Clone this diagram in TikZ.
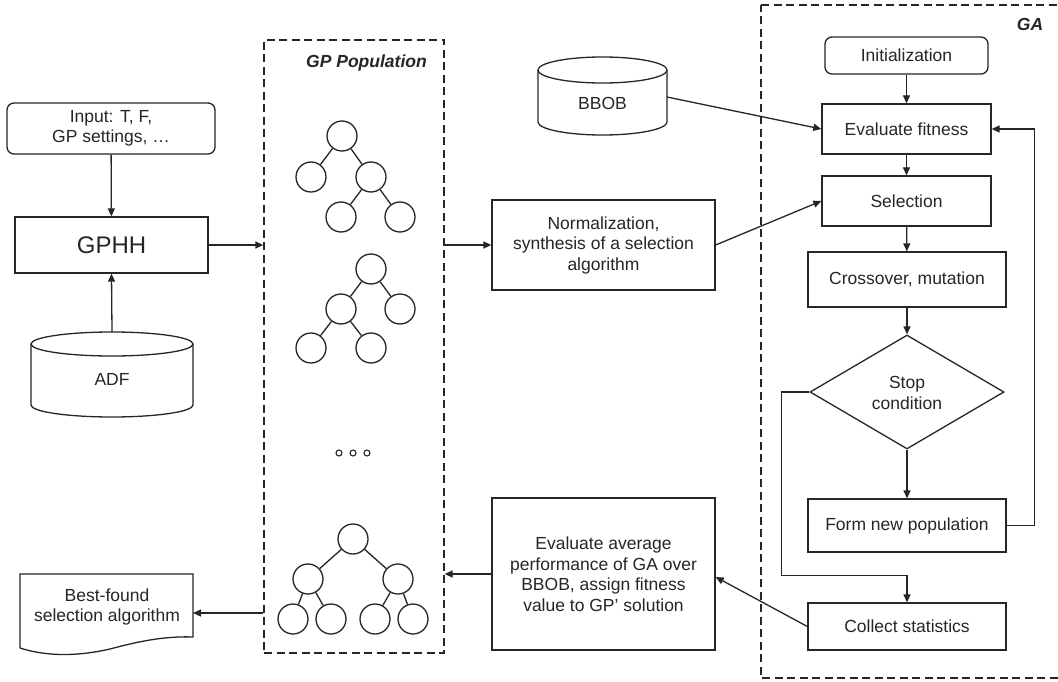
\documentclass[tikz,border=0pt]{standalone}
\usepackage{fontspec}
\setmainfont{Liberation Sans}
\usetikzlibrary{shapes.geometric,arrows.meta,calc}
\begin{document}
\begin{tikzpicture}[x=1pt,y=-1pt,
  line width=1.3pt, draw=black!85,
  every node/.style={font=\fontsize{17.5}{20.5}\selectfont, align=center, inner sep=0pt, text=black!85},
  box/.style={draw, rectangle, minimum width=#1},
  rbox/.style={draw, rectangle, rounded corners=7pt},
  arr/.style={-{Triangle[length=8pt,width=7pt]}},
  dbox/.style={draw, dash pattern=on 8pt off 4.5pt, line width=1.3pt},
  tn/.style={draw, circle, minimum size=30pt, line width=1.3pt},
  dot/.style={draw, circle, minimum size=6pt, line width=1.1pt},
  lbl/.style={font=\fontsize{17.5}{20.5}\selectfont\bfseries\itshape}
]
\useasboundingbox (0,0) rectangle (1058,682);
\fill[white] (0,0) rectangle (1058,682);

% ---------- left column ----------
\node[rbox, minimum width=208pt, minimum height=51pt] (inp) at (111,128.5) {Input: T, F,\\GP settings, \dots};
\node[box=193pt, minimum height=56pt, font=\fontsize{24}{28}\selectfont] (gphh) at (111.5,245) {GPHH};
% ADF cylinder
\draw (31,344) -- (31,405) arc[start angle=180,end angle=0,x radius=81,y radius=12] -- (193,344);
\draw (112,344) ellipse[x radius=81,y radius=12];
\node (adf) at (112,379) {ADF};
\coordinate (adftop) at (112,332);

% Best-found document
\draw (20,648) -- (20,574) -- (193,574) -- (193,637)
  .. controls (165,636) and (140,641) .. (110,649)
  .. controls (75,657) and (45,656) .. (20,648);
\node (best) at (107,607) {Best-found\\selection algorithm};
\coordinate (bestE) at (193,613);

% ---------- GP population ----------
\node[dbox, minimum width=180pt, minimum height=613pt] (pop) at (354,346.5) {};
\node[lbl] (poplbl) at (366.5,63) {GP Population};

% tree 1
\node[tn] (a1) at (342,136) {};
\node[tn] (a2) at (311,177) {};
\node[tn] (a3) at (371,177) {};
\node[tn] (a4) at (341,217) {};
\node[tn] (a5) at (400,217) {};
\draw (a1) -- (a2); \draw (a1) -- (a3); \draw (a3) -- (a4); \draw (a3) -- (a5);
% tree 2
\node[tn] (b1) at (371,269) {};
\node[tn] (b2) at (341,309) {};
\node[tn] (b3) at (400,309) {};
\node[tn] (b4) at (311,348) {};
\node[tn] (b5) at (371,348) {};
\draw (b1) -- (b2); \draw (b1) -- (b3); \draw (b2) -- (b4); \draw (b2) -- (b5);
% dots
\node[dot] (d1) at (339,453) {};
\node[dot] (d2) at (353,453) {};
\node[dot] (d3) at (367,453) {};
% tree 3
\node[tn] (c1) at (353,539) {};
\node[tn] (c2) at (308,579) {};
\node[tn] (c3) at (398,579) {};
\node[tn] (c4) at (293,619) {};
\node[tn] (c5) at (331,619) {};
\node[tn] (c6) at (375,619) {};
\node[tn] (c7) at (413,619) {};
\draw (c1) -- (c2); \draw (c1) -- (c3);
\draw (c2) -- (c4); \draw (c2) -- (c5); \draw (c3) -- (c6); \draw (c3) -- (c7);

% ---------- middle ----------
\node[box=223pt, minimum height=90pt] (norm) at (603.5,245) {Normalization,\\synthesis of a selection\\algorithm};
\node[box=223pt, minimum height=152pt] (evalavg) at (603.5,574) {Evaluate average\\performance of GA over\\BBOB, assign fitness\\value to GP' solution};
% BBOB cylinder
\draw (538,70) -- (538,122) arc[start angle=180,end angle=0,x radius=64.5,y radius=13] -- (667,70);
\draw (602.5,70) ellipse[x radius=64.5,y radius=13];
\node (bbob) at (602.5,103) {BBOB};
\coordinate (bbobE) at (667,97);

% ---------- GA ----------
\draw[dbox] (761,5) -- (1070,5) (1070,678) -- (761,678) -- (761,5);
\node[lbl] (galbl) at (1030,24) {GA};
\node[rbox, minimum width=163pt, minimum height=37pt] (init) at (906.5,55.5) {Initialization};
\node[box=169pt, minimum height=50pt] (evalfit) at (906.5,129) {Evaluate fitness};
\node[box=169pt, minimum height=50pt] (sel) at (906.5,201) {Selection};
\node[box=198pt, minimum height=55pt] (cross) at (907,279.5) {Crossover, mutation};
\node[draw, diamond, minimum width=194pt, minimum height=114pt] (stop) at (907,392) {};
\node (stoptxt) at (907,393) {Stop\\condition};
\node[box=198pt, minimum height=53pt] (formnew) at (907,525.5) {Form new population};
\node[box=198pt, minimum height=47pt] (collect) at (907,626.5) {Collect statistics};

% ---------- connectors ----------
\draw[arr] (inp) -- (gphh);
\draw[arr] (adftop) -- (gphh.south);
\draw[arr] (gphh.east) -- (gphh.east -| pop.west);
\draw[arr] (pop.east |- norm.west) -- (norm.west);
\draw[arr] (norm.east) -- (sel.west);
\draw[arr] (bbobE) -- (evalfit.west);
\draw[arr] (init) -- (evalfit);
\draw[arr] (evalfit) -- (sel);
\draw[arr] (sel) -- (cross);
\draw[arr] (cross.south) -- (stop.north);
\draw[arr] (stop.south) -- (formnew.north);
\draw[arr] (formnew.east) -- ++(28,0) |- (evalfit.east);
\draw[arr] (stop.west) -- ++(-28,0) |- ($(collect.north)+(0,-27)$) -- (collect.north);
\draw[arr] (collect.west) -- ($(evalavg.east)+(0,3)$);
\draw[arr] (evalavg.west) -- (evalavg.west -| pop.east);
\draw[arr] (pop.west |- bestE) -- (bestE);
\end{tikzpicture}
\end{document}
